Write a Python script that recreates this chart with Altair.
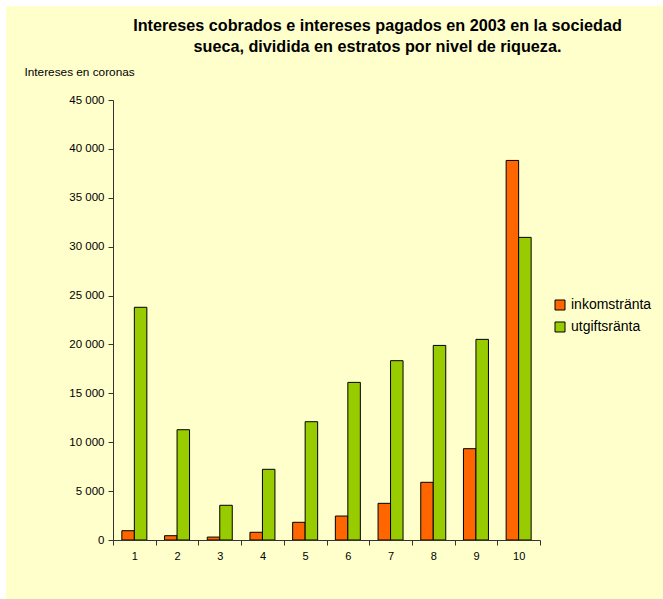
import altair as alt
import pandas as pd

estratos = [str(i) for i in range(1, 11)]
inkomstranta = [950, 440, 300, 790, 1810, 2450, 3750, 5900, 9340, 38820]
utgiftsranta = [23800, 11280, 3550, 7230, 12100, 16120, 18340, 19900, 20520, 30950]
series = ["inkomstränta", "utgiftsränta"]
colors = ["#FF6600", "#99CC00"]
y_ticks = list(range(0, 45001, 5000))
title_lines = [
    "Intereses cobrados e intereses pagados en 2003 en la sociedad",
    "sueca, dividida en estratos por nivel de riqueza.",
]
y_title = "Intereses en coronas"

rows = []
for i, e in enumerate(estratos):
    rows.append({"estrato": e, "serie": series[0], "valor": inkomstranta[i]})
    rows.append({"estrato": e, "serie": series[1], "valor": utgiftsranta[i]})
df = pd.DataFrame(rows)

FONT = "Liberation Sans"

bg = alt.Chart(pd.DataFrame({"k": [0]})).mark_rect(
    fill="#FFFFCC", clip=False
).encode(
    x=alt.value(-107), x2=alt.value(550), y=alt.value(-94), y2=alt.value(499)
)

bars = alt.Chart(df).mark_bar(stroke="#000000", strokeWidth=1).encode(
    x=alt.X(
        "estrato:N",
        sort=estratos,
        scale=alt.Scale(paddingInner=0, paddingOuter=0),
        axis=alt.Axis(
            title=None,
            labelAngle=0,
            tickBand="extent",
            labelFont=FONT,
            labelFontSize=11,
            labelColor="#000000",
            labelPadding=5,
            tickSize=5,
            tickColor="#333333",
            domainColor="#333333",
            zindex=1,
        ),
    ),
    xOffset=alt.XOffset(
        "serie:N",
        sort=series,
        scale=alt.Scale(paddingInner=0, paddingOuter=0.708),
    ),
    y=alt.Y(
        "valor:Q",
        scale=alt.Scale(domain=[0, 45000], nice=False),
        axis=alt.Axis(
            values=y_ticks,
            grid=False,
            title=y_title,
            titleAngle=0,
            titleAlign="left",
            titleBaseline="middle",
            titleX=-89,
            titleY=-29,
            titleFont=FONT,
            titleFontSize=11.8,
            titleFontWeight="normal",
            titleColor="#000000",
            labelExpr="replace(format(datum.value, ','), ',', ' ')",
            labelFont=FONT,
            labelFontSize=11.5,
            labelColor="#000000",
            labelPadding=4,
            tickSize=5,
            tickColor="#333333",
            domainColor="#333333",
            zindex=1,
        ),
    ),
    color=alt.Color(
        "serie:N",
        sort=series,
        scale=alt.Scale(domain=series, range=colors),
        legend=alt.Legend(
            title=None,
            orient="none",
            legendX=440,
            legendY=198,
            symbolType="square",
            symbolSize=100,
            symbolStrokeColor="#000000",
            symbolStrokeWidth=1,
            labelFont=FONT,
            labelFontSize=14,
            labelColor="#000000",
            labelOffset=4,
            rowPadding=8,
        ),
    ),
)

chart = alt.layer(bg, bars).properties(
    width=427,
    height=440,
    autosize=alt.AutoSizeParams(type="none"),
    padding={"left": 113, "top": 100, "right": 123, "bottom": 59},
    background="white",
    title=alt.TitleParams(
        text=title_lines,
        anchor="middle",
        frame="group",
        font=FONT,
        fontSize=16.2,
        fontWeight="bold",
        color="#000000",
        baseline="alphabetic",
        offset=0,
        dx=51,
        dy=62,
        lineHeight=21,
    ),
).configure_view(stroke=None)

chart.save("out.html", embed_options={"renderer": "svg", "actions": False})
